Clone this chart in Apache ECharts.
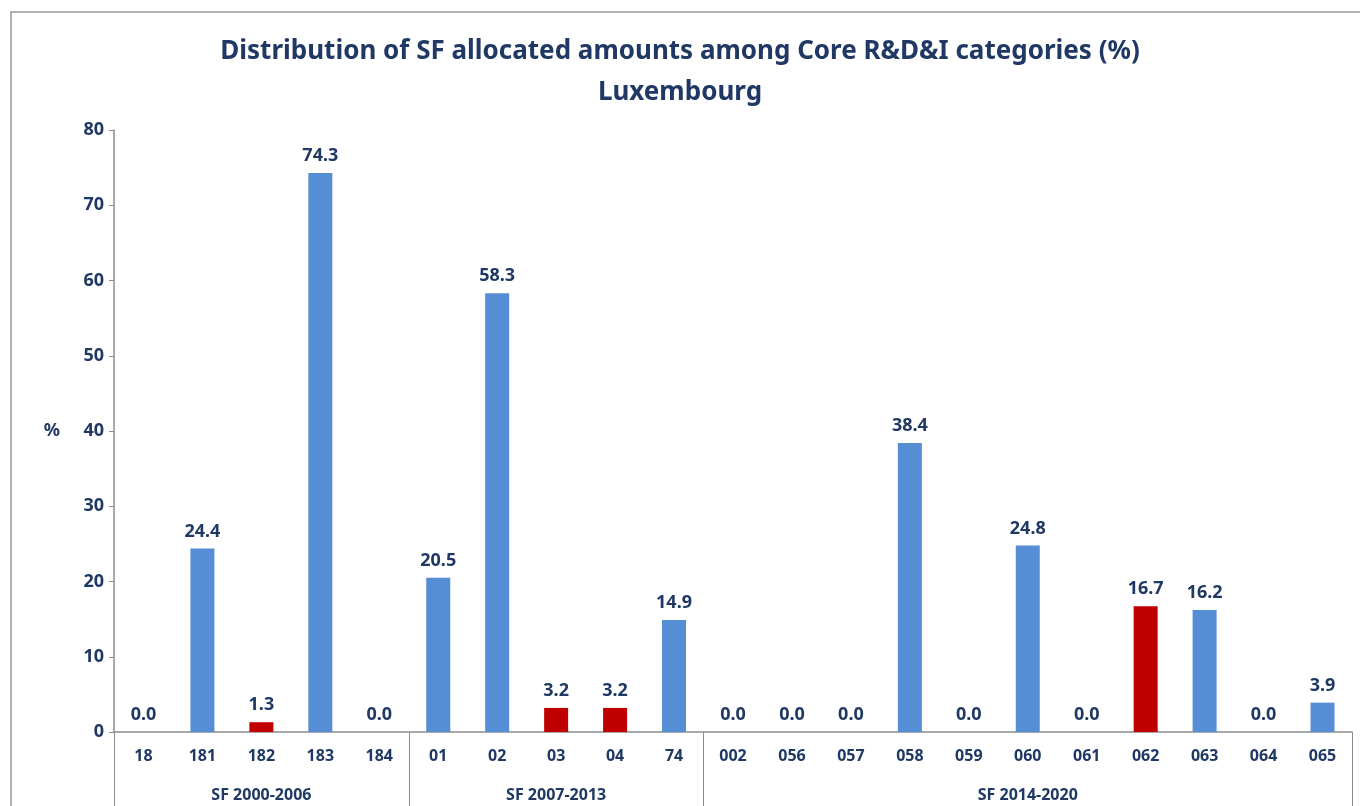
<!DOCTYPE html>
<html>
<head>
<meta charset="utf-8">
<script src="https://cdn.jsdelivr.net/npm/echarts@6/dist/echarts.min.js"></script>
<style>
  html, body { margin: 0; padding: 0; background: #fff; }
  #chart { width: 1360px; height: 806px; }
</style>
</head>
<body>
<div id="chart"></div>
<script>
// categories and values
const categories = ['18', '181', '182', '183', '184',
                    '01', '02', '03', '04', '74',
                    '002', '056', '057', '058', '059', '060', '061', '062', '063', '064', '065'];
const values = [0.0, 24.4, 1.3, 74.3, 0.0,
                20.5, 58.3, 3.2, 3.2, 14.9,
                0.0, 0.0, 0.0, 38.4, 0.0, 24.8, 0.0, 16.7, 16.2, 0.0, 3.9];
const highlighted = ['182', '03', '04', '062'];
const groups = ['SF 2000-2006', 'SF 2007-2013', 'SF 2014-2020'];
const groupSizes = [5, 5, 11];
const yTicks = [0, 10, 20, 30, 40, 50, 60, 70, 80];

const navy = '#1f3864';
const blue = '#558ed5';
const red = '#c00000';

// group boundaries and centres, in category units
let bounds = [0];
groupSizes.forEach(n => bounds.push(bounds[bounds.length - 1] + n));
let centres = groups.map((g, i) => (bounds[i] + bounds[i + 1]) / 2);

let barData = values.map((v, i) => ({
    value: v,
    itemStyle: { color: highlighted.includes(categories[i]) ? red : blue }
}));

let myChart = echarts.init(document.getElementById('chart'));
let option = {
    animation: false,
    textStyle: { fontFamily: 'Noto Sans' },
    title: {
        text: 'Distribution of SF allocated amounts among Core R&D&I categories (%)\nLuxembourg',
        left: 'center',
        top: 26,
        padding: [5, 0, 5, 22],
        textStyle: { color: navy, fontSize: 26, fontWeight: 'bold', lineHeight: 41, fontFamily: 'Noto Sans' }
    },
    graphic: [{
        type: 'rect',
        shape: { x: 11, y: 12, width: 1400, height: 900 },
        style: { fill: 'none', stroke: '#9a9a9a', lineWidth: 1.5 }
    }],
    grid: { left: 114, right: 8, top: 130, bottom: 74, containLabel: false },
    xAxis: [{
        type: 'category',
        data: categories,
        axisLine: { lineStyle: { color: '#8c8c8c', width: 1.5 } },
        axisTick: { length: 37, lineStyle: { color: '#8c8c8c' } },
        axisLabel: { color: navy, fontSize: 16, fontWeight: 'bold', margin: 16 }
    }, {
        type: 'value',
        position: 'bottom',
        min: 0,
        max: categories.length,
        axisLine: { show: false },
        splitLine: { show: false },
        axisTick: { show: true, length: 80, customValues: bounds, lineStyle: { color: '#8c8c8c' } },
        axisLabel: {
            customValues: centres,
            margin: 55,
            color: navy, fontSize: 16, fontWeight: 'bold',
            formatter: v => groups[centres.indexOf(v)] || ''
        }
    }],
    yAxis: {
        type: 'value',
        min: 0,
        max: yTicks[yTicks.length - 1],
        interval: 10,
        name: '%',
        nameLocation: 'middle',
        nameRotate: 0,
        nameGap: 54,
        nameTextStyle: { color: navy, fontSize: 18, fontWeight: 'bold' },
        axisLine: { show: true, lineStyle: { color: '#8c8c8c', width: 1.5 } },
        axisTick: { show: true, length: 5, lineStyle: { color: '#8c8c8c' } },
        splitLine: { show: false },
        axisLabel: { color: navy, fontSize: 18, fontWeight: 'bold', margin: 10 }
    },
    series: [{
        type: 'bar',
        xAxisIndex: 0,
        data: barData,
        barWidth: 24,
        label: {
            show: true,
            position: 'top',
            distance: 8,
            color: navy,
            fontSize: 18,
            fontWeight: 'bold',
            formatter: p => p.value.toFixed(1)
        }
    }]
};
myChart.setOption(option);
</script>
</body>
</html>
